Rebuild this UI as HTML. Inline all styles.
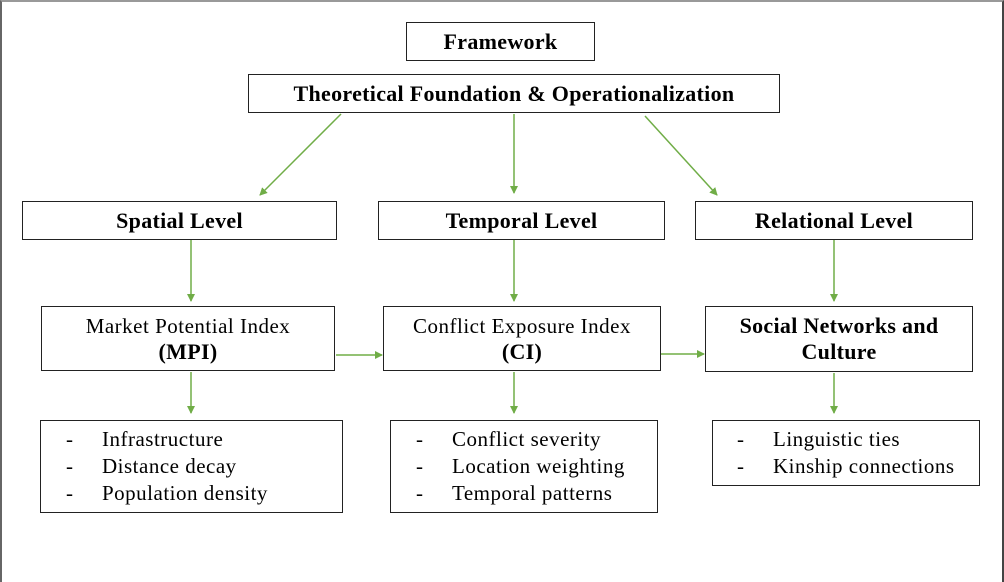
<!DOCTYPE html>
<html><head><style>
body{margin:0;width:1004px;height:572px;overflow:hidden;background:#fff;position:relative;font-family:"Liberation Serif",serif;}
.f{position:absolute;left:0;top:0;width:1000px;height:580px;border-left:2px solid #666;border-top:2px solid #999;border-right:2px solid #444;}
.b{position:absolute;border:1.5px solid #222;box-sizing:border-box;display:flex;flex-direction:column;align-items:center;justify-content:center;text-align:center;font-size:21px;color:#000;line-height:26px;letter-spacing:0.5px;}
.bo{font-weight:bold;font-size:22px;letter-spacing:0.3px;}
.b div{display:block;}
.l{position:absolute;font-size:21px;line-height:27px;white-space:pre;letter-spacing:0.5px;}
</style></head><body>
<div class="f"></div>
<div class="b bo" style="left:406px;top:22px;width:189px;height:39px">Framework</div>
<div class="b bo" style="left:248px;top:74px;width:532px;height:39px">Theoretical Foundation &amp; Operationalization</div>
<div class="b bo" style="left:22px;top:201px;width:315px;height:39px">Spatial Level</div>
<div class="b bo" style="left:378px;top:201px;width:287px;height:39px">Temporal Level</div>
<div class="b bo" style="left:695px;top:201px;width:278px;height:39px">Relational Level</div>
<div class="b" style="left:41px;top:306px;width:294px;height:65px"><div>Market Potential Index</div><div style="font-weight:bold;font-size:22px;letter-spacing:0.3px">(MPI)</div></div>
<div class="b" style="left:383px;top:306px;width:278px;height:65px"><div>Conflict Exposure Index</div><div style="font-weight:bold;font-size:22px;letter-spacing:0.3px">(CI)</div></div>
<div class="b bo" style="left:705px;top:306px;width:268px;height:66px"><div>Social Networks and</div><div>Culture</div></div>
<div class="b" style="left:40px;top:420px;width:303px;height:93px"></div>
<div class="b" style="left:390px;top:420px;width:268px;height:93px"></div>
<div class="b" style="left:712px;top:420px;width:268px;height:66px"></div>
<div class="l" style="left:66px;top:426px">-</div>
<div class="l" style="left:66px;top:453px">-</div>
<div class="l" style="left:66px;top:480px">-</div>
<div class="l" style="left:102px;top:426px">Infrastructure<br>Distance decay<br>Population density</div>
<div class="l" style="left:416px;top:426px">-</div>
<div class="l" style="left:416px;top:453px">-</div>
<div class="l" style="left:416px;top:480px">-</div>
<div class="l" style="left:452px;top:426px">Conflict severity<br>Location weighting<br>Temporal patterns</div>
<div class="l" style="left:737px;top:426px">-</div>
<div class="l" style="left:737px;top:453px">-</div>
<div class="l" style="left:773px;top:426px">Linguistic ties<br>Kinship connections</div>
<svg style="position:absolute;left:0;top:0" width="1004" height="572">
<defs><marker id="a" markerWidth="8" markerHeight="8" refX="7" refY="4" orient="auto" markerUnits="userSpaceOnUse"><path d="M0,0L8,4L0,8z" fill="#70ad47"/></marker></defs>
<g stroke="#70ad47" stroke-width="1.5" fill="none" marker-end="url(#a)">
<line x1="341" y1="114" x2="260" y2="195"/>
<line x1="514" y1="114" x2="514" y2="193"/>
<line x1="645" y1="116" x2="717" y2="195"/>
<line x1="191" y1="240" x2="191" y2="301"/>
<line x1="514" y1="240" x2="514" y2="301"/>
<line x1="834" y1="240" x2="834" y2="301"/>
<line x1="191" y1="372" x2="191" y2="413"/>
<line x1="514" y1="372" x2="514" y2="413"/>
<line x1="834" y1="373" x2="834" y2="413"/>
<line x1="336" y1="355" x2="382" y2="355"/>
<line x1="661" y1="354" x2="704" y2="354"/>
</g></svg>
</body></html>
